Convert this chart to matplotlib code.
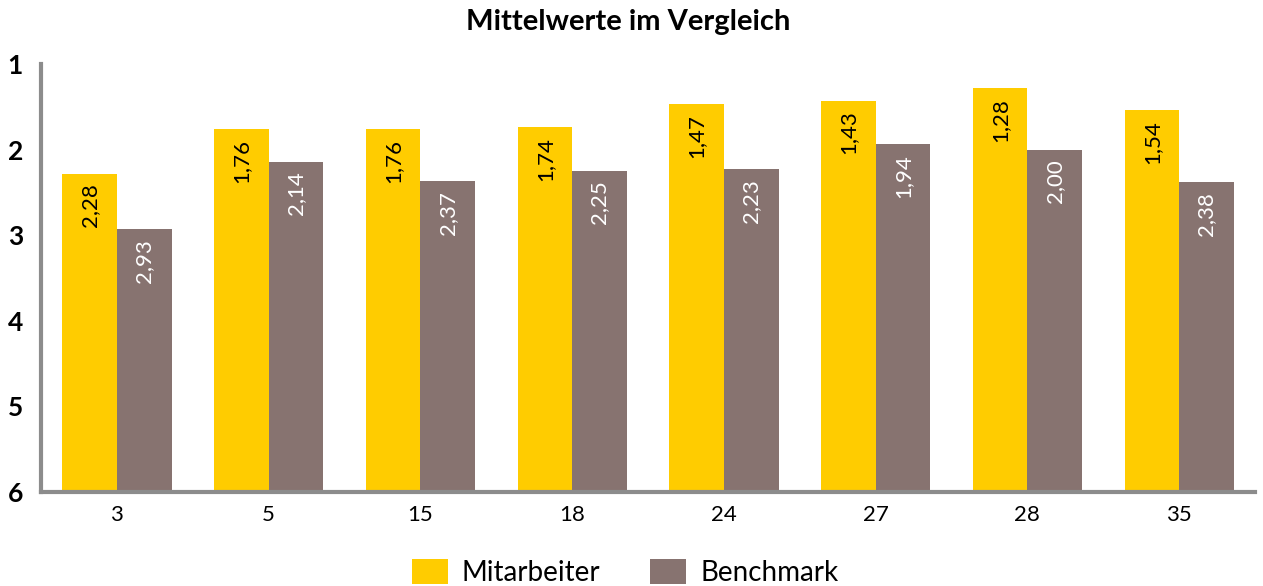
import matplotlib
matplotlib.use("Agg")
import matplotlib.pyplot as plt
import numpy as np

plt.rcParams['font.family'] = ['Lato', 'DejaVu Sans']

categories = ['3', '5', '15', '18', '24', '27', '28', '35']
mitarbeiter = [2.28, 1.76, 1.76, 1.74, 1.47, 1.43, 1.28, 1.54]
benchmark = [2.93, 2.14, 2.37, 2.25, 2.23, 1.94, 2.00, 2.38]
yticks = [1, 2, 3, 4, 5, 6]

yellow = '#FFCC00'
grey = '#877370'
axis_col = '#8C8C8C'

fig = plt.figure(figsize=(12.63, 5.86), dpi=100)
ax = fig.add_axes([0.0325, 0.1604, 0.9612, 0.7304])

x = np.arange(len(categories))
w = 0.36
base = 6
b1 = ax.bar(x - w / 2, np.array(mitarbeiter) - base, bottom=base, width=w,
            color=yellow, label='Mitarbeiter')
b2 = ax.bar(x + w / 2, np.array(benchmark) - base, bottom=base, width=w,
            color=grey, label='Benchmark')

for xi, v in zip(x, mitarbeiter):
    ax.annotate(f'{v:.2f}'.replace('.', ','), (xi - w / 2, v),
                xytext=(0, -7), textcoords='offset points',
                rotation=90, ha='center', va='top', fontsize=16, color='black')
for xi, v in zip(x, benchmark):
    ax.annotate(f'{v:.2f}'.replace('.', ','), (xi + w / 2, v),
                xytext=(0, -7), textcoords='offset points',
                rotation=90, ha='center', va='top', fontsize=16, color='white')

ax.set_xlim(-0.5, len(categories) - 0.5)
ax.set_ylim(6, 1)
ax.set_yticks(yticks)
ax.set_yticklabels([str(t) for t in yticks], fontsize=19, fontweight='bold')
ax.set_xticks(x)
ax.set_xticklabels(categories, fontsize=16)
ax.tick_params(axis='both', length=0)
ax.tick_params(axis='y', pad=13)
ax.tick_params(axis='x', pad=9)

for s in ['top', 'right']:
    ax.spines[s].set_visible(False)
for s in ['left', 'bottom']:
    ax.spines[s].set_color(axis_col)
    ax.spines[s].set_linewidth(3)

fig.text(0.497, 0.962, 'Mittelwerte im Vergleich', fontsize=21,
         fontweight='bold', ha='center', va='center')

fig.legend(handles=[b1, b2], loc='lower center', ncol=2, frameon=False,
           fontsize=20, bbox_to_anchor=(0.495, -0.043), handlelength=1.3,
           handleheight=1.0, columnspacing=1.8, handletextpad=0.5)

fig.savefig('out.png', dpi=100)
